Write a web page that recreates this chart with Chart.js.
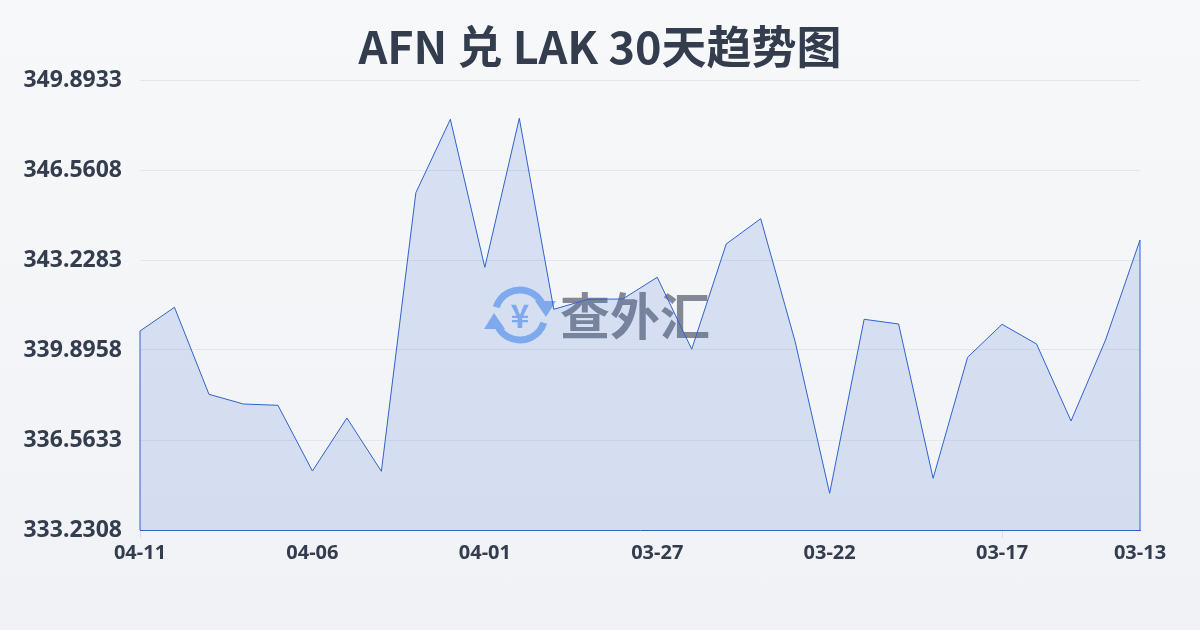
<!DOCTYPE html>
<html>
<head>
<meta charset="utf-8">
<script src="https://cdn.jsdelivr.net/npm/chart.js@4/dist/chart.umd.min.js"></script>
<style>
  html, body { margin: 0; padding: 0; }
  body {
    width: 1200px; height: 630px; overflow: hidden;
    background: linear-gradient(180deg, #f7f8fa 0%, #f0f2f5 100%);
    font-family: "Noto Sans CJK SC", "Noto Sans", sans-serif;
  }
  #wrap { position: relative; width: 1200px; height: 630px; }
  h1 {
    position: absolute; top: 0; left: 0; width: 1200px; margin: 0;
    text-align: center; line-height: 90px; font-size: 45px; font-weight: 700;
    color: #343d4e;
  }
</style>
</head>
<body>
<div id="wrap">
  <h1>AFN 兑 LAK 30天趋势图</h1>
  <canvas id="trendChart" width="1200" height="630"></canvas>
</div>
<script>
// 日期 (从新到旧)
const dates = [
  '04-11', '04-10', '04-09', '04-08', '04-07', '04-06', '04-05', '04-04', '04-03', '04-02',
  '04-01', '03-31', '03-30', '03-29', '03-28', '03-27', '03-26', '03-25', '03-24', '03-23',
  '03-22', '03-21', '03-20', '03-19', '03-18', '03-17', '03-16', '03-15', '03-14', '03-13'
];

// 汇率
const rates = [
  340.599, 341.477, 338.256, 337.896, 337.848, 335.415, 337.378, 335.404, 345.720, 348.438,
  342.958, 348.475, 341.403, 341.773, 341.784, 342.588, 339.925, 343.821, 344.758, 340.203,
  334.590, 341.033, 340.859, 335.145, 339.626, 340.847, 340.118, 337.267, 340.266, 343.969
];

// Y轴刻度
const yMin = 333.2308;
const yMax = 349.8933;
const yStep = 3.3325;

// 只显示这些日期的标签
const shownDates = ['04-11', '04-06', '04-01', '03-27', '03-22', '03-17', '03-13'];

const lineColor = '#2f62cc';

// 水印 "查外汇"
const watermark = {
  id: 'watermark',
  beforeDatasetsDraw(chart) {
    const ctx = chart.ctx;
    const cx = 520, cy = 315, r = 25;
    ctx.save();
    ctx.strokeStyle = '#8db6f2';
    ctx.fillStyle = '#8db6f2';
    ctx.lineWidth = 7;
    // 上弧
    ctx.beginPath();
    ctx.arc(cx, cy, r, Math.PI * 1.1, Math.PI * 1.83);
    ctx.stroke();
    // 下弧
    ctx.beginPath();
    ctx.arc(cx, cy, r, Math.PI * 0.1, Math.PI * 0.83);
    ctx.stroke();
    // 箭头
    ctx.beginPath();
    ctx.moveTo(cx + r + 11, cy - 14);
    ctx.lineTo(cx + r - 10, cy - 14);
    ctx.lineTo(cx + r + 1, cy + 2);
    ctx.closePath();
    ctx.fill();
    ctx.beginPath();
    ctx.moveTo(cx - r - 11, cy + 14);
    ctx.lineTo(cx - r + 10, cy + 14);
    ctx.lineTo(cx - r - 1, cy - 2);
    ctx.closePath();
    ctx.fill();
    ctx.font = 'bold 32px "Noto Sans CJK SC"';
    ctx.textAlign = 'center';
    ctx.textBaseline = 'middle';
    ctx.fillText('¥', cx, cy + 1);
    // 文字
    ctx.fillStyle = 'rgba(110,116,130,0.85)';
    ctx.font = 'bold 50px "Noto Sans CJK SC"';
    ctx.textAlign = 'left';
    ctx.fillText('查外汇', 560, cy + 1);
    ctx.restore();
  }
};

// 面积两侧的竖线
const sideLines = {
  id: 'sideLines',
  afterDatasetsDraw(chart) {
    const pts = chart.getDatasetMeta(0).data;
    const bottom = chart.chartArea.bottom;
    const ctx = chart.ctx;
    ctx.save();
    ctx.strokeStyle = lineColor;
    ctx.lineWidth = 1;
    [pts[0], pts[pts.length - 1]].forEach(p => {
      ctx.beginPath();
      ctx.moveTo(p.x, p.y);
      ctx.lineTo(p.x, bottom);
      ctx.stroke();
    });
    ctx.restore();
  }
};

const ctx = document.getElementById('trendChart').getContext('2d');
new Chart(ctx, {
  type: 'line',
  data: {
    labels: dates,
    datasets: [{
      data: rates,
      borderColor: lineColor,
      borderWidth: 1,
      backgroundColor: 'rgba(50,100,210,0.15)',
      fill: 'start',
      tension: 0,
      pointRadius: 0
    }]
  },
  options: {
    responsive: false,
    animation: false,
    layout: { padding: { left: 0, right: 60, top: 80, bottom: 0 } },
    plugins: {
      legend: { display: false },
      tooltip: { enabled: false }
    },
    scales: {
      x: {
        afterFit(scale) { scale.height = 100; },
        grid: {
          display: true, drawOnChartArea: false, drawTicks: true, tickLength: 8,
          color: ctx => shownDates.includes(dates[ctx.index]) ? '#dcdfe4' : 'rgba(0,0,0,0)'
        },
        border: { display: true, color: lineColor, width: 1 },
        ticks: {
          autoSkip: false,
          maxRotation: 0,
          padding: 3,
          color: '#343d4e',
          font: { family: '"Noto Sans"', size: 20, weight: 'bold' },
          callback(value, index) {
            const d = dates[index];
            return shownDates.includes(d) ? d : null;
          }
        }
      },
      y: {
        min: yMin,
        max: yMax,
        afterFit(scale) { scale.width = 140; },
        afterBuildTicks(scale) {
          const t = [];
          for (let i = 0; i <= 5; i++) t.push({ value: yMin + yStep * i });
          scale.ticks = t;
        },
        grid: { color: '#e3e6ea', drawTicks: false },
        border: { display: false },
        ticks: {
          padding: 18,
          color: '#343d4e',
          font: { family: '"Noto Sans"', size: 23, weight: 'bold' },
          callback(value) { return Number(value).toFixed(4); }
        }
      }
    }
  },
  plugins: [watermark, sideLines]
});
</script>
</body>
</html>
